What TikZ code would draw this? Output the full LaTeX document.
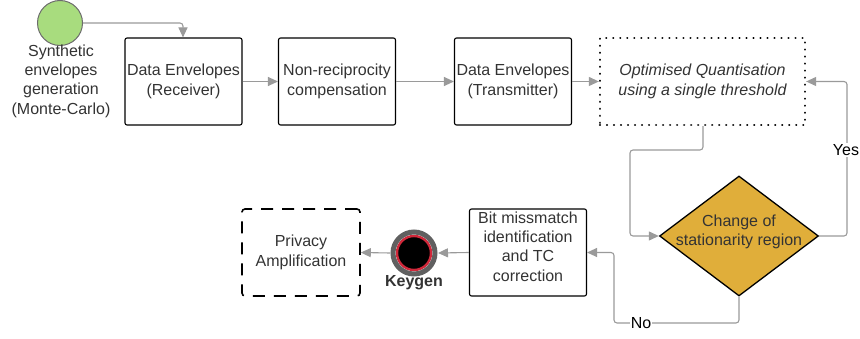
\documentclass[tikz,border=0pt]{standalone}
\usepackage{fontspec}
\setmainfont{Liberation Sans}
\usetikzlibrary{arrows.meta,shapes.geometric}
\definecolor{txt}{HTML}{333333}
\definecolor{conn}{HTML}{9A9A9A}
\definecolor{greenf}{HTML}{A8DC7E}
\definecolor{gold}{HTML}{E0AE3A}
\definecolor{ringred}{HTML}{D0283A}
\begin{document}
\begin{tikzpicture}[x=1pt,y=-1pt,
  every node/.style={font=\fontsize{16}{19.3}\selectfont, text=txt, align=center},
  box/.style={draw=black, line width=1.1pt, rounded corners=2pt, minimum width=117pt, minimum height=87pt, inner sep=0pt},
  dotbox/.style={draw=black, line width=2.3pt, dash pattern=on 0.01pt off 7pt, line cap=round, minimum width=205pt, minimum height=87pt, inner sep=0pt},
  dashbox/.style={draw=black, line width=1.6pt, dash pattern=on 12pt off 9pt, rounded corners=3pt, minimum width=118pt, minimum height=87pt, inner sep=0pt},
  conn/.style={draw=conn, line width=1.1pt, rounded corners=3pt, -{Triangle[length=10pt,width=9pt]}},
  lbl/.style={text=black, fill=white, inner sep=1pt}
]
\useasboundingbox (0,0) rectangle (860,339);

% start circle
\node[circle, draw=gray!85!black, line width=1pt, fill=greenf, minimum size=45pt, inner sep=0pt] (start) at (60,23) {};
\node (startlbl) at (61,81) {Synthetic\\envelopes\\generation\\(Monte-Carlo)};

\node[box] (b1) at (183.5,81.5) {Data Envelopes\\(Receiver)};
\node[box] (b2) at (337,81.5) {Non-reciprocity\\compensation};
\node[box] (b3) at (513,81.5) {Data Envelopes\\(Transmitter)};
\node[dotbox] (q) at (702.5,81.5) {\itshape Optimised Quantisation\\\itshape using a single threshold};

\node[diamond, draw=black, line width=1.3pt, fill=gold, minimum width=159pt, minimum height=120pt, inner sep=0pt, aspect=1.32] (d) at (739,236) {};
\node (dlbl) at (739,232) {Change of\\stationarity region};

\node[box] (bm) at (528,252.5) {};
\node (bmlbl) at (528,246.5) {Bit missmatch\\identification\\and TC\\correction};

\node[circle, fill=black, draw=ringred, line width=2.4pt, minimum size=34pt, inner sep=0pt] (kg) at (414,253) {};
\draw[gray!75!black, line width=5pt] (kg.center) circle (21pt);
\node[font=\fontsize{16}{19}\bfseries\selectfont] (kglbl) at (414,283) {Keygen};

\node[dashbox] (pa) at (301,252.5) {Privacy\\Amplification};

% connectors
\coordinate (c1) at (183,23);
\draw[conn] (start.east) -- (c1) -- (b1.north -| c1);
\draw[conn] (b1) -- (b2);
\draw[conn] (b2) -- (b3);
\draw[conn] (b3) -- (q);
\coordinate (q1) at (703,150);
\coordinate (q2) at (630,150);
\draw[conn] (q.south -| q1) -- (q1) -- (q2) -- (q2 |- d.west) -- (d.west);
\coordinate (y1) at (847,236);
\draw[conn] (d.east) -- (y1) -- (y1 |- q.east) -- (q.east);
\node[lbl] (yes) at (846,150) {Yes};
\coordinate (n1) at (739,323);
\coordinate (n2) at (614,323);
\draw[conn] (d.south) -- (n1) -- (n2) -- (n2 |- bm.east) -- (bm.east);
\node[lbl] (no) at (641,323) {No};
\coordinate (kge) at (438,253);
\coordinate (kgw) at (390,253);
\draw[conn] (bm.west) -- (kge);
\draw[conn] (kgw) -- (pa.east);
\end{tikzpicture}
\end{document}
